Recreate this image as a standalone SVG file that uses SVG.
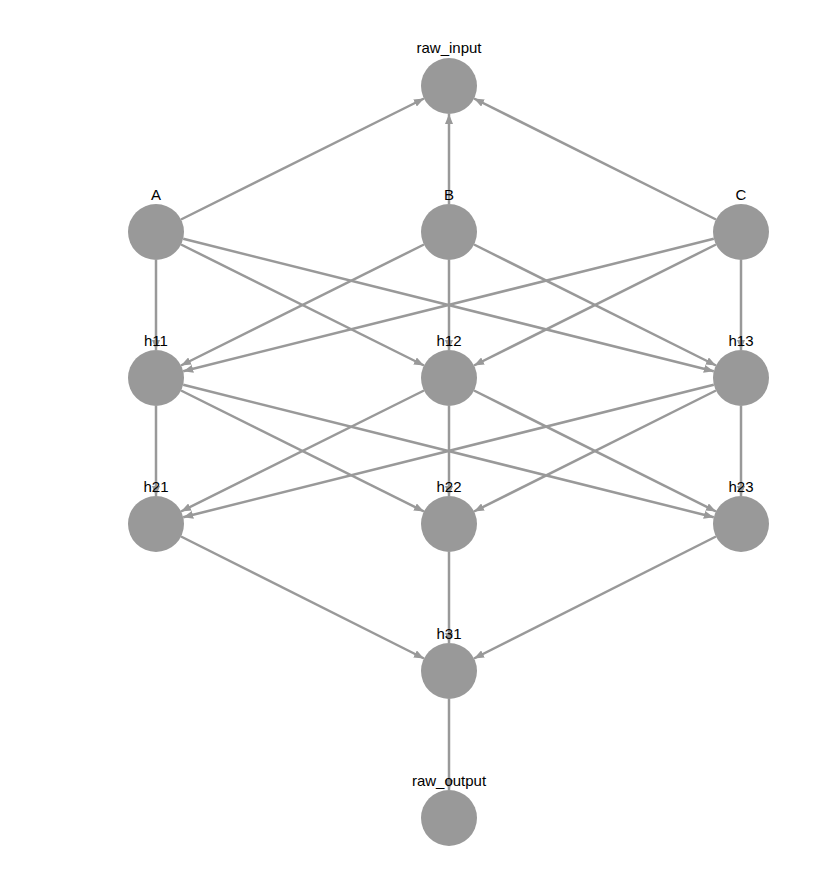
<svg xmlns="http://www.w3.org/2000/svg" width="828" height="876" viewBox="0 0 828 876">
<style>
.e{stroke:#999;stroke-width:2.5;fill:none;marker-end:url(#a)}
.n{fill:#999}
.t{font-family:"Liberation Sans",Arial,sans-serif;font-size:15px;fill:#000;text-anchor:middle}
</style>
<defs><marker id="a" markerUnits="userSpaceOnUse" markerWidth="10" markerHeight="8" refX="10" refY="4" orient="auto"><path d="M0,0L10,4L0,8Z" fill="#999"/></marker></defs>
<rect width="828" height="876" fill="#fff"/>
<g id="connectors">
<line class="e" x1="181" y1="219.5" x2="424" y2="98.5"/>
<line class="e" x1="449" y1="204" x2="449" y2="114"/>
<line class="e" x1="716" y1="219.5" x2="474" y2="98.5"/>
<line class="e" x1="156" y1="260" x2="156" y2="350"/>
<line class="e" x1="181" y1="244.5" x2="424" y2="365.5"/>
<line class="e" x1="183.2" y1="238.8" x2="713.8" y2="371.2"/>
<line class="e" x1="424" y1="244.5" x2="181" y2="365.5"/>
<line class="e" x1="449" y1="260" x2="449" y2="350"/>
<line class="e" x1="474" y1="244.5" x2="716" y2="365.5"/>
<line class="e" x1="713.8" y1="238.8" x2="183.2" y2="371.2"/>
<line class="e" x1="716" y1="244.5" x2="474" y2="365.5"/>
<line class="e" x1="741" y1="260" x2="741" y2="350"/>
<line class="e" x1="156" y1="406" x2="156" y2="496"/>
<line class="e" x1="181" y1="390.5" x2="424" y2="511.5"/>
<line class="e" x1="183.2" y1="384.8" x2="713.8" y2="517.2"/>
<line class="e" x1="424" y1="390.5" x2="181" y2="511.5"/>
<line class="e" x1="449" y1="406" x2="449" y2="496"/>
<line class="e" x1="474" y1="390.5" x2="716" y2="511.5"/>
<line class="e" x1="713.8" y1="384.8" x2="183.2" y2="517.2"/>
<line class="e" x1="716" y1="390.5" x2="474" y2="511.5"/>
<line class="e" x1="741" y1="406" x2="741" y2="496"/>
<line class="e" x1="181" y1="536.5" x2="424" y2="658.5"/>
<line class="e" x1="449" y1="552" x2="449" y2="643"/>
<line class="e" x1="716" y1="536.5" x2="474" y2="658.5"/>
<line class="e" x1="449" y1="699" x2="449" y2="790"/>
</g>
<g id="raw_input"><circle class="n" cx="449" cy="86" r="28"/><text class="t" x="449" y="53">raw_input</text></g>
<g id="A"><circle class="n" cx="156" cy="232" r="28"/><text class="t" x="156" y="200">A</text></g>
<g id="B"><circle class="n" cx="449" cy="232" r="28"/><text class="t" x="449" y="200">B</text></g>
<g id="C"><circle class="n" cx="741" cy="232" r="28"/><text class="t" x="741" y="200">C</text></g>
<g id="h11"><circle class="n" cx="156" cy="378" r="28"/><text class="t" x="156" y="346">h11</text></g>
<g id="h12"><circle class="n" cx="449" cy="378" r="28"/><text class="t" x="449" y="346">h12</text></g>
<g id="h13"><circle class="n" cx="741" cy="378" r="28"/><text class="t" x="741" y="346">h13</text></g>
<g id="h21"><circle class="n" cx="156" cy="524" r="28"/><text class="t" x="156" y="492">h21</text></g>
<g id="h22"><circle class="n" cx="449" cy="524" r="28"/><text class="t" x="449" y="492">h22</text></g>
<g id="h23"><circle class="n" cx="741" cy="524" r="28"/><text class="t" x="741" y="492">h23</text></g>
<g id="h31"><circle class="n" cx="449" cy="671" r="28"/><text class="t" x="449" y="639">h31</text></g>
<g id="raw_output"><circle class="n" cx="449" cy="818" r="28"/><text class="t" x="449" y="786">raw_output</text></g>
</svg>
